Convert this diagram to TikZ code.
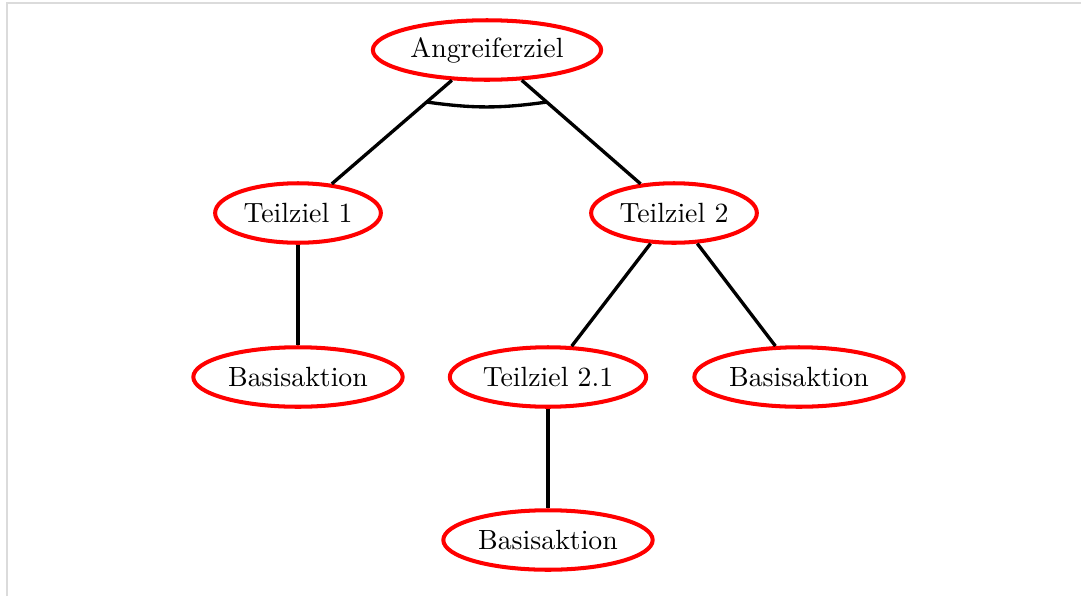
\documentclass[tikz,border=0pt]{standalone}
\usetikzlibrary{shapes.geometric}
\begin{document}
\begin{tikzpicture}[
  x=0.3597pt, y=-0.3597pt,
  goal/.style={draw=red, ellipse, line width=1.45pt, inner xsep=1.5pt, inner ysep=1.5pt,
               minimum height=21.4pt, font=\normalsize},
  link/.style={draw=black, very thick},
  frame/.style={draw=black!14, line width=0.4pt}
]
\useasboundingbox (0,0) rectangle (1081,596);
\draw[frame] (7,596) -- (7,3) -- (1081,3);

\node[goal] (root) at (487,50)  {Angreiferziel};
\node[goal] (t1)   at (298,213) {Teilziel 1};
\node[goal] (t2)   at (674,213) {Teilziel 2};
\node[goal] (b1)   at (298,377) {Basisaktion};
\node[goal] (t21)  at (548,377) {Teilziel 2.1};
\node[goal] (b2)   at (799,377) {Basisaktion};
\node[goal] (b3)   at (548,540) {Basisaktion};

% AND-decomposition of the root goal
\draw[link] (root) -- coordinate[pos=0.21] (andL) (t1);
\draw[link] (root) -- coordinate[pos=0.21] (andR) (t2);
\draw[link] (andL) to[bend right=8] (andR);

\draw[link] (t1) -- (b1);
\draw[link] (t2) -- (t21);
\draw[link] (t2) -- (b2);
\draw[link] (t21) -- (b3);
\end{tikzpicture}
\end{document}
